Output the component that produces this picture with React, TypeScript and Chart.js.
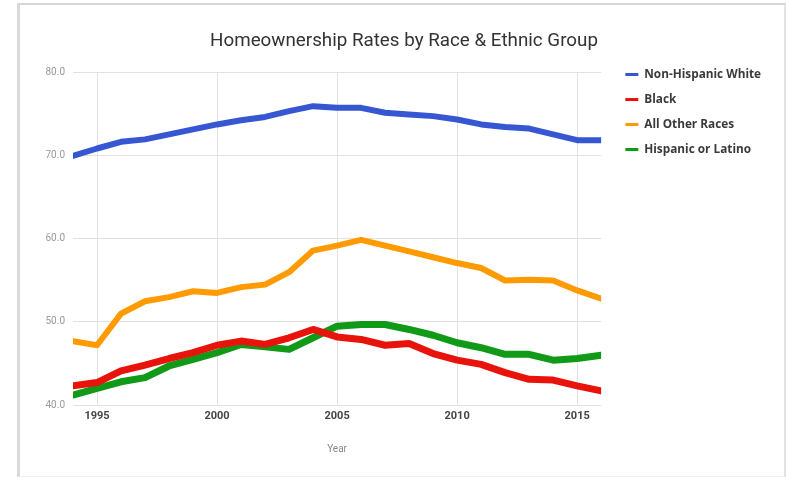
import React, { useEffect, useRef } from "react";
import { Chart, registerables } from "chart.js";

Chart.register(...registerables);

const chartTitle = "Homeownership Rates by Race & Ethnic Group";
const xAxisTitle = "Year";
const years = [1994, 1995, 1996, 1997, 1998, 1999, 2000, 2001, 2002, 2003, 2004, 2005, 2006, 2007, 2008, 2009, 2010, 2011, 2012, 2013, 2014, 2015, 2016];
const nonHispanicWhite = [70.0, 70.9, 71.7, 72.0, 72.6, 73.2, 73.8, 74.3, 74.7, 75.4, 76.0, 75.8, 75.8, 75.2, 75.0, 74.8, 74.4, 73.8, 73.5, 73.3, 72.6, 71.9, 71.9];
const black = [42.3, 42.7, 44.1, 44.8, 45.6, 46.3, 47.2, 47.7, 47.3, 48.1, 49.1, 48.2, 47.9, 47.2, 47.4, 46.2, 45.4, 44.9, 43.9, 43.1, 43.0, 42.3, 41.7];
const allOtherRaces = [47.7, 47.2, 51.0, 52.5, 53.0, 53.7, 53.5, 54.2, 54.5, 56.0, 58.6, 59.2, 59.9, 59.2, 58.5, 57.8, 57.1, 56.5, 55.0, 55.1, 55.0, 53.8, 52.8];
const hispanicOrLatino = [41.2, 42.0, 42.8, 43.3, 44.7, 45.5, 46.3, 47.3, 47.0, 46.7, 48.1, 49.5, 49.7, 49.7, 49.1, 48.4, 47.5, 46.9, 46.1, 46.1, 45.4, 45.6, 46.0];
const seriesNames = ["Non-Hispanic White", "Black", "All Other Races", "Hispanic or Latino"];
const seriesValues = [nonHispanicWhite, black, allOtherRaces, hispanicOrLatino];
const seriesColors = ["#3657d1", "#e8140c", "#ff9a00", "#109a18"];
const seriesWidths = [6, 7, 6, 7];
const xTickValues = [1995, 2000, 2005, 2010, 2015];
const yTickValues = [40, 50, 60, 70, 80];

export default function App() {
  const ref = useRef<HTMLCanvasElement>(null);

  useEffect(() => {
    const canvas = ref.current;
    if (!canvas) return;
    Chart.defaults.font.family = "Roboto";

    const legendFamily = "'Open Sans'";
    const m = document.createElement("canvas").getContext("2d")!;
    m.font = "bold 12px " + legendFamily;
    const tw12 = Math.max(...seriesNames.map((n) => m.measureText(n).width));
    const fsz = Math.min(13.5, Math.max(11, (12 * 117) / tw12));
    const tw = (tw12 * fsz) / 12;
    const boxW = 13;
    const labPad = 25 - fsz;
    const legendLeft = 612;
    const legendWidth = labPad + boxW + fsz / 2 + tw + 10;
    const padR = Math.max(0, 787 - (legendLeft + legendWidth));
    const padL = Math.max(0, 808 - 787 + padR);
    const legendTitlePad = 74.5 - fsz / 2 - labPad - 14.4;

    const chart = new Chart(canvas, {
      type: "line",
      data: {
        datasets: seriesNames.map((name, i) => ({
          label: name,
          data: years.map((yr, j) => ({ x: yr, y: seriesValues[i][j] })),
          borderColor: seriesColors[i],
          backgroundColor: seriesColors[i],
          borderWidth: seriesWidths[i],
          pointRadius: 0,
          tension: 0,
          borderJoinStyle: "round" as const,
          borderCapStyle: "round" as const,
          fill: false,
        })),
      },
      options: {
        responsive: false,
        animation: false,
        layout: { padding: { left: padL, right: padR, top: 0, bottom: 0 } },
        plugins: {
          title: {
            display: true,
            text: chartTitle,
            color: "#333",
            font: { size: 18.8, weight: "normal" },
            padding: { top: 29.7, bottom: 20.7 },
          },
          legend: {
            position: "right",
            align: "start",
            maxWidth: 260,
            title: { display: true, text: "", padding: { top: legendTitlePad, bottom: 0 } },
            labels: {
              usePointStyle: true,
              pointStyle: "line",
              pointStyleWidth: boxW,
              padding: labPad,
              color: "#3a3a3a",
              font: { size: fsz, weight: "bold", family: legendFamily },
              generateLabels: (c: any) =>
                Chart.defaults.plugins.legend.labels.generateLabels(c).map((l: any) => ({ ...l, lineWidth: 3, lineCap: "butt" })),
            },
          },
          tooltip: { enabled: false },
        },
        scales: {
          x: {
            type: "linear",
            min: years[0],
            max: years[years.length - 1],
            afterBuildTicks: (a: any) => {
              a.ticks = xTickValues.map((v) => ({ value: v }));
            },
            ticks: {
              color: "#444",
              font: { size: 11, weight: "bold" },
              padding: 5,
              callback: (v: any) => String(v),
            },
            grid: { color: "#e2e2e2", drawTicks: false },
            border: { display: false },
            title: {
              display: true,
              text: xAxisTitle,
              color: "#888",
              font: { size: 10 },
              padding: { top: 0, bottom: 22 },
            },
            afterFit: (s: any) => {
              s.height = 72;
            },
          },
          y: {
            type: "linear",
            min: yTickValues[0],
            max: yTickValues[yTickValues.length - 1],
            afterBuildTicks: (a: any) => {
              a.ticks = yTickValues.map((v) => ({ value: v }));
            },
            ticks: {
              color: "#999",
              font: { size: 10 },
              padding: 8,
              callback: (v: any) => Number(v).toFixed(1),
            },
            grid: { color: "#e2e2e2", drawTicks: false },
            border: { display: false },
            afterFit: (s: any) => {
              s.width = 73 - padL;
            },
          },
          y2: {
            type: "linear",
            position: "right",
            display: true,
            grid: { display: false },
            ticks: { display: false },
            border: { display: false },
            afterFit: (s: any) => {
              s.width = 11;
            },
          },
        },
      } as any,
    });
    return () => chart.destroy();
  }, []);

  return (
    <div style={{ position: "fixed", left: 0, top: 0, width: 787, height: 477, background: "#fff", overflow: "hidden" }}>
      <div
        style={{
          position: "absolute",
          left: 17,
          top: 3,
          width: 769,
          height: 474,
          boxSizing: "border-box",
          borderLeft: "3px solid #d9d9d9",
          borderTop: "2px solid #d6d6d6",
          borderRight: "2px solid #e2e2e2",
          borderBottom: "1px solid #ececec",
        }}
      />
      <canvas ref={ref} width={787} height={477} style={{ position: "absolute", left: 0, top: 0 }} />
    </div>
  );
}
